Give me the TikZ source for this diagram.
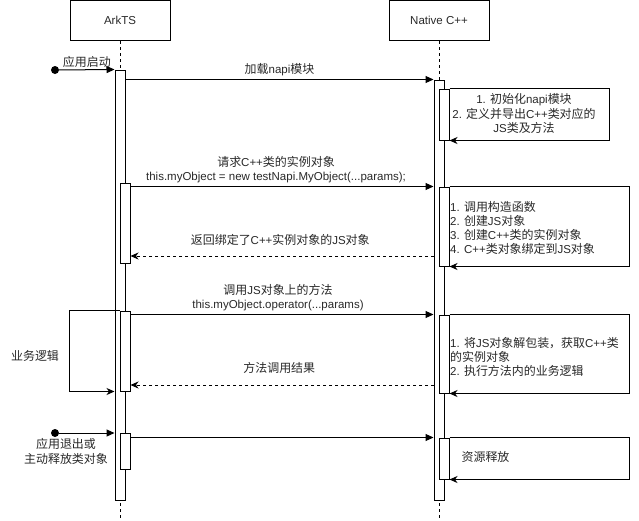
\documentclass[tikz,border=0pt]{standalone}
\usepackage{fontspec}
\setmainfont{Liberation Sans}
\newfontfamily\cjk[Scale=1.04]{Noto Sans CJK SC}
\newcommand{\zh}[1]{{\cjk #1}}
\newcommand{\lblfont}{\fontsize{11.5}{14.3}\selectfont}
\usepackage{tikz}
\usetikzlibrary{arrows.meta,positioning,calc}
\definecolor{txtgray}{RGB}{40,40,40}
\tikzset{
  headbox/.style ={draw, line width=1pt, minimum width=100pt,
                   minimum height=40pt, font=\lblfont, text=txtgray},
  actbar/.style  ={draw, fill=white, line width=1pt, minimum width=10pt,
                   inner sep=0pt},
  lifeline/.style={line width=1pt, dash pattern=on 3pt off 3pt},
  msg/.style     ={-{Triangle[length=8pt,width=7pt]}, line width=1pt},
  retmsg/.style  ={-{Stealth[length=8pt,width=7pt,inset=2.5pt]}, line width=1pt,
                   dash pattern=on 3pt off 3pt},
  selfcall/.style={-{Stealth[length=8pt,width=7pt,inset=2.5pt]}, line width=1pt},
  lbl/.style     ={font=\lblfont, text=txtgray, inner sep=1pt, align=center},
  startdot/.style={circle, fill=black, minimum size=8pt, inner sep=0pt},
}

\begin{document}
\begin{tikzpicture}[x=1pt, y=-1pt]
  \useasboundingbox (0,0) rectangle (639,520);

  % lifelines
  \node[headbox] (ark) at (120,20.5) {ArkTS};
  \node[headbox] (nat) at (439,20.5) {Native C++};
  \coordinate (arkend) at (120,520);
  \coordinate (natend) at (439,520);
  \draw[lifeline] (ark) -- (arkend);
  \draw[lifeline] (nat) -- (natend);

  \node[actbar, minimum height=430pt] (arkbar) at (120,285) {};
  \node[actbar, minimum height=420pt] (natbar) at (439,290) {};

  % nested activations
  \node[actbar, minimum height=80pt] (a2) at (125,223) {};
  \node[actbar, minimum height=80pt] (a3) at (125,351) {};
  \node[actbar, minimum height=36pt] (a4) at (125,451) {};
  \node[actbar, minimum height=51pt] (n1) at (444,114.5) {};
  \node[actbar, minimum height=79pt] (n2) at (444,226.5) {};
  \node[actbar, minimum height=78pt] (n3) at (444,354) {};
  \node[actbar, minimum height=41pt] (n4) at (444,458.5) {};

  % app start, load module
  \node[startdot] (s1) at (55,70) {};
  \draw[msg] (s1) -- (arkbar.north west)
        node[lbl, midway, above=0.5pt] {\zh{应用启动}};
  \draw[msg] (arkbar.east |- natbar.north) -- (natbar.north west)
        node[lbl, midway, above=2pt] {\zh{加载}napi\zh{模块}};
  \draw[selfcall] (n1.north east) -- ++(160,0) |- (n1.south east);
  \node[lbl] (t1) at (524,113.5)
        {1. \zh{初始化}napi\zh{模块}\\2. \zh{定义并导出}C++\zh{类对应的}\\JS\zh{类及方法}};

  % create instance
  \draw[msg] (a2.east |- n2.north) -- (natbar.west |- n2.north)
        node[lbl, midway, above=2pt, xshift=-6pt]
        {\zh{请求}C++\zh{类的实例对象}\\this.myObject = new testNapi.MyObject(...params);};
  \draw[selfcall] (n2.north east) -- ++(180,0) |- (n2.south east);
  \node[lbl, anchor=west, align=left] (t2) at (449,228)
        {1. \zh{调用构造函数}\\2. \zh{创建}JS\zh{对象}\\3. \zh{创建}C++\zh{类的实例对象}\\4. C++\zh{类对象绑定到}JS\zh{对象}};
  \coordinate (r2) at (434,256);
  \draw[retmsg] (r2) -- (r2 -| a2.east)
        node[lbl, midway, above=9pt, xshift=-2pt] {\zh{返回绑定了}C++\zh{实例对象的}JS\zh{对象}};

  % call method
  \draw[msg] (a3.east |- n3.north) -- (natbar.west |- n3.north)
        node[lbl, midway, above=2pt, xshift=-4pt]
        {\zh{调用}JS\zh{对象上的方法}\\this.myObject.operator(...params)};
  \draw[selfcall] (a3.north west) -- ++(-50,0) |- (arkbar.west |- a3.south);
  \node[lbl] (biz) at (35,356) {\zh{业务逻辑}};
  \draw[selfcall] (n3.north east) -- ++(180,0) |- (n3.south east);
  \node[lbl, anchor=west, align=left] (t3) at (449,357)
        {1. \zh{将}JS\zh{对象解包装，获取}C++\zh{类}\\\zh{的实例对象}\\2. \zh{执行方法内的业务逻辑}};
  \coordinate (r3) at (434,385);
  \draw[retmsg] (r3) -- (r3 -| a3.east)
        node[lbl, midway, above=10pt, xshift=-3pt] {\zh{方法调用结果}};

  % release
  \node[startdot] (s4) at (55,433) {};
  \draw[msg] (s4) -- (arkbar.west |- s4);
  \node[lbl] (quit) at (66,451.5) {\zh{应用退出或}\\\zh{主动释放类对象}};
  \draw[msg] (a4.east |- n4.north) -- (natbar.west |- n4.north);
  \draw[selfcall] (n4.north east) -- ++(180,0) |- (n4.south east);
  \node[lbl] (t4) at (485.5,457) {\zh{资源释放}};
\end{tikzpicture}
\end{document}
